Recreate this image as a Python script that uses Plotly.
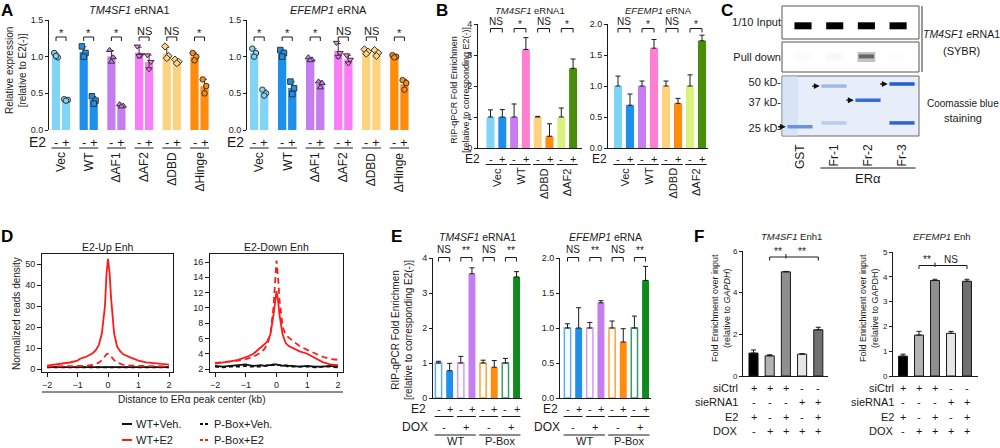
import numpy as np
import plotly.graph_objects as go

W, H = 1000, 448
FONT = "Arial, 'Liberation Sans', Helvetica, sans-serif"
INK = "#1a1a1a"

# ------------------------------------------------------------------ data
# Panel A  (replicate values, relative expression)
A_groups = ["Vec", "WT", "ΔAF1", "ΔAF2", "ΔDBD", "ΔHinge"]
A_colors = ["#80d4f6", "#1e90ec", "#c77df2", "#fb7cf9", "#fed37f", "#ff8c0d"]
A_symbols = ["circle", "square", "triangle-up", "triangle-down", "diamond", "circle"]
A_tm_minus = [[1.05, 0.99, 1.01], [1.14, 1.05, 1.00], [1.09, 0.99, 0.93],
              [1.14, 1.02, 1.01], [1.14, 1.01, 0.98], [1.05, 1.00, 0.95]]
A_tm_plus = [[0.42, 0.41, 0.40], [0.46, 0.40, 0.36], [0.35, 0.33, 0.32],
             [1.02, 0.93, 0.83], [0.96, 0.93, 0.91], [0.69, 0.60, 0.50]]
A_tm_sig = ["*", "*", "*", "NS", "NS", "*"]
A_ef_minus = [[1.11, 1.05, 1.00], [1.09, 1.05, 1.00], [0.99, 0.96, 0.95],
              [1.19, 1.05, 1.00], [1.10, 1.07, 1.04], [1.02, 1.00, 0.99]]
A_ef_plus = [[0.55, 0.50, 0.47], [0.66, 0.57, 0.49], [0.66, 0.64, 0.58],
             [1.02, 0.96, 0.91], [1.09, 1.05, 1.01], [0.68, 0.64, 0.55]]
A_ef_sig = ["*", "*", "*", "NS", "NS", "*"]

# Panel B  (RIP-qPCR)
B_groups = ["Vec", "WT", "ΔDBD", "ΔAF2"]
B_minus_colors = ["#80d4f6", "#c77df2", "#fed37f", "#d8f27c"]
B_plus_colors = ["#1e90ec", "#ff80d2", "#ff8c0d", "#4a8c0c"]
B_tm_minus = [1.0, 1.0, 1.0, 1.0]
B_tm_minus_err = [0.23, 0.42, 0.02, 0.29]
B_tm_plus = [1.0, 3.18, 0.38, 2.57]
B_tm_plus_err = [0.24, 0.38, 0.40, 0.30]
B_tm_sig = ["NS", "*", "NS", "*"]
B_ef_minus = [1.0, 1.0, 1.0, 1.0]
B_ef_minus_err = [0.16, 0.08, 0.08, 0.18]
B_ef_plus = [0.69, 1.61, 0.72, 1.73]
B_ef_plus_err = [0.18, 0.14, 0.08, 0.09]
B_ef_sig = ["NS", "*", "NS", "*"]

# Panel C  (gel)
C_lanes = ["GST", "Fr-1", "Fr-2", "Fr-3"]
C_input = [1.0, 1.0, 1.0, 1.0]
C_pulldown = [0.02, 0.03, 0.6, 0.01]
C_marker_kd = [25, 37, 50]
C_band_lane = [0, 1, 1, 2, 3, 3]
C_band_kd = [25.5, 47, 27, 38, 48.5, 27]
C_band_int = [0.6, 0.35, 0.22, 0.85, 0.95, 0.9]
C_band_arrow = [True, True, False, True, True, False]

# Panel D  (metaplots)
D_x = [-2, -1.75, -1.5, -1.25, -1, -0.9, -0.75, -0.5, -0.4, -0.3, -0.2, -0.1, -0.05,
       0, 0.05, 0.1, 0.2, 0.3, 0.4, 0.5, 0.75, 1, 1.25, 1.5, 1.75, 2]
D_up_wt_veh = [0.9, 0.9, 0.9, 0.9, 1.0, 1.0, 1.0, 1.0, 1.0, 1.1, 1.1, 1.2, 1.2,
               1.2, 1.2, 1.2, 1.1, 1.1, 1.1, 1.0, 1.0, 1.0, 1.0, 0.9, 0.9, 0.9]
D_up_wt_e2 = [1.6, 2.0, 2.6, 3.1, 4.0, 5.0, 5.6, 7.5, 9.0, 11.5, 17, 30, 45,
              52.5, 46, 34, 17, 10.6, 8.5, 7.0, 5.4, 4.0, 3.2, 2.7, 2.4, 2.1]
D_up_pb_veh = [0.8, 0.8, 0.8, 0.8, 0.8, 0.8, 0.8, 0.9, 0.9, 0.9, 0.9, 0.9, 0.9,
               0.9, 0.9, 0.9, 0.9, 0.9, 0.9, 0.9, 0.8, 0.8, 0.8, 0.8, 0.8, 0.8]
D_up_pb_e2 = [1.2, 1.2, 1.3, 1.3, 1.4, 1.4, 1.5, 2.0, 2.4, 3.0, 4.2, 6.0, 7.0,
              7.3, 7.0, 6.0, 4.2, 3.0, 2.4, 2.0, 1.6, 1.5, 1.4, 1.3, 1.3, 1.2]
D_dn_wt_veh = [2.4, 2.3, 2.4, 2.5, 2.6, 2.5, 2.4, 2.5, 2.4, 2.5, 2.5, 2.6, 2.6,
               2.6, 2.5, 2.5, 2.4, 2.5, 2.4, 2.4, 2.3, 2.4, 2.3, 2.3, 2.4, 2.3]
D_dn_wt_e2 = [2.7, 2.8, 3.0, 3.2, 3.5, 3.7, 4.0, 4.8, 5.2, 5.6, 6.5, 9.0, 11.0,
              12.2, 11.0, 9.0, 6.5, 5.4, 5.0, 4.8, 4.3, 4.0, 3.4, 2.9, 2.6, 2.5]
D_dn_pb_veh = [2.3, 2.2, 2.3, 2.3, 2.4, 2.3, 2.3, 2.3, 2.4, 2.4, 2.5, 2.5, 2.5,
               2.5, 2.5, 2.5, 2.4, 2.4, 2.3, 2.3, 2.3, 2.3, 2.2, 2.3, 2.3, 2.2]
D_dn_pb_e2 = [2.8, 2.9, 3.0, 3.1, 3.3, 3.4, 3.6, 4.2, 4.6, 5.2, 6.5, 10.0, 14.0,
              16.2, 14.0, 11.0, 7.5, 6.5, 6.1, 5.8, 5.0, 4.5, 4.0, 3.6, 3.3, 3.2]
D_series = ["WT+Veh.", "P-Box+Veh.", "WT+E2", "P-Box+E2"]

# Panel E
E_dox = ["-", "+", "-", "+"]
E_lines = ["WT", "P-Box"]
E_colors = ["#1e90ec", "#c77df2", "#ff8c0d", "#0f8a1e"]
E_open_colors = ["#5aaef0", "#d49af4", "#ffa23a", "#3a9a6a"]
E_tm_minus = [1.0, 1.0, 1.0, 1.0]
E_tm_minus_err = [0.05, 0.19, 0.08, 0.13]
E_tm_plus = [0.78, 3.55, 0.88, 3.46]
E_tm_plus_err = [0.21, 0.17, 0.19, 0.15]
E_tm_sig = ["NS", "**", "NS", "**"]
E_ef_minus = [1.0, 1.0, 1.0, 1.0]
E_ef_minus_err = [0.06, 0.08, 0.10, 0.17]
E_ef_plus = [1.0, 1.36, 0.8, 1.68]
E_ef_plus_err = [0.29, 0.03, 0.19, 0.20]
E_ef_sig = ["NS", "**", "NS", "**"]

# Panel F
F_rows = ["siCtrl", "sieRNA1", "E2", "DOX"]
F_signs = [["+", "+", "+", "-", "-"],
           ["-", "-", "-", "+", "+"],
           ["+", "-", "+", "-", "+"],
           ["-", "+", "+", "+", "+"]]
F_colors = ["#000000", "#b3b3b3", "#8f8f8f", "#e6e6e6", "#707070"]
F_tm = [1.1, 0.97, 5.0, 1.05, 2.22]
F_tm_err = [0.15, 0.05, 0.02, 0.02, 0.12]
F_tm_sig = ["**", "**"]
F_ef = [0.8, 1.65, 3.85, 1.72, 3.82]
F_ef_err = [0.08, 0.15, 0.05, 0.08, 0.08]
F_ef_sig = ["**", "NS"]

# ------------------------------------------------------------------ helpers
fig = go.Figure()
AX = {}
shapes = []
anns = []
count = [0]


def P(x):
    return x / W


def Q(y):
    return 1 - y / H


def make_axes(x0, x1, ytop, ybot, xr, yr, xkw=None, ykw=None):
    count[0] += 1
    s = "" if count[0] == 1 else str(count[0])
    xa = dict(domain=[P(x0), P(x1)], range=xr, anchor="y" + s, showgrid=False, zeroline=False,
              showline=False, showticklabels=False, ticks="", fixedrange=True, automargin=False,
              linecolor=INK, linewidth=1)
    ya = dict(domain=[Q(ybot), Q(ytop)], range=yr, anchor="x" + s, showgrid=False, zeroline=False,
              showline=True, linecolor=INK, linewidth=1, ticks="outside", ticklen=3, tickwidth=1,
              tickcolor=INK, tickfont=dict(size=9, color=INK, family=FONT), fixedrange=True,
              automargin=False)
    if xkw:
        xa.update(xkw)
    if ykw:
        ya.update(ykw)
    AX["xaxis" + s] = xa
    AX["yaxis" + s] = ya
    return "x" + s, "y" + s


def txt(t, x, y, xref="paper", size=10, xa="center", ya="middle", angle=0, color=INK, bold=False):
    xv = P(x) if xref == "paper" else x
    if bold:
        t = "<b>" + t + "</b>"
    anns.append(dict(text=f"<span style='color:{color}'>{t}</span>", x=xv, y=Q(y), xref=xref,
                     yref="paper", showarrow=False, xanchor=xa, yanchor=ya, textangle=angle,
                     borderpad=0, font=dict(size=size, family=FONT, color=color)))


def seg(x0, y0, x1, y1, xref="paper", color=INK, width=1, dash="solid"):
    if xref == "paper":
        x0, x1 = P(x0), P(x1)
    shapes.append(dict(type="line", xref=xref, yref="paper", x0=x0, x1=x1, y0=Q(y0), y1=Q(y1),
                       line=dict(color=color, width=width, dash=dash)))


def bracket(xref, xa_, xb_, ytop, ybot, width=1):
    path = f"M{xa_},{Q(ybot)} L{xa_},{Q(ytop)} L{xb_},{Q(ytop)} L{xb_},{Q(ybot)}"
    shapes.append(dict(type="path", path=path, xref=xref, yref="paper",
                       line=dict(color=INK, width=width)))


def up_err(errs, width=2.5):
    return dict(type="data", symmetric=False, array=errs, arrayminus=[0] * len(errs),
                color=INK, thickness=1, width=width)


# ------------------------------------------------------------------ panel A
def panel_A(x0, x1, title, minus, plus, sig, e2_right):
    xr, yr = make_axes(x0, x1, 20, 130, [-0.7, 15.4], [0, 1.5],
                       ykw=dict(tickvals=[0, 0.5, 1.0, 1.5], ticktext=["0.0", "0.5", "1.0", "1.5"]))
    pitch = 2.77
    bx, by, bc, be = [], [], [], []
    dx, dy, dc, ds = [], [], [], []
    jit = [-0.18, 0.18, 0.0]
    for g in range(len(A_groups)):
        for k, reps in enumerate((minus[g], plus[g])):
            xx = g * pitch + k
            bx.append(xx)
            by.append(float(np.mean(reps)))
            bc.append(A_colors[g])
            be.append(float(np.std(reps, ddof=1)))
            for j, v in enumerate(reps):
                dx.append(xx + jit[j])
                dy.append(v)
                dc.append(A_colors[g])
                ds.append(A_symbols[g])
    fig.add_trace(go.Bar(x=bx, y=by, width=0.82, marker=dict(color=bc, line=dict(width=0)),
                         error_y=dict(type="data", array=be, color="#333", thickness=1, width=2.5),
                         xaxis=xr, yaxis=yr, showlegend=False))
    fig.add_trace(go.Scatter(x=dx, y=dy, mode="markers", cliponaxis=False,
                             marker=dict(size=5.5, color=dc, symbol=ds, line=dict(color="#333", width=1)),
                             xaxis=xr, yaxis=yr, showlegend=False))
    txt(title, (x0 + x1) / 2, 10, size=11)
    for g in range(len(A_groups)):
        xm = g * pitch
        xp = xm + 1
        bracket(xr, xm, xp, 37, 41)
        txt(sig[g], (xm + xp) / 2, 31 if sig[g] == "NS" else 33, xref=xr, size=11)
        txt("-", xm, 142, xref=xr, size=13)
        txt("+", xp, 142, xref=xr, size=13)
        seg(xm - 0.45, 148, xp + 0.45, 148, xref=xr)
        txt(A_groups[g], (xm + xp) / 2, 151, xref=xr, size=12, ya="top", angle=-90)
    txt("E2", e2_right, 142, size=14, xa="right")


panel_A(49, 210, "<i>TM4SF1</i> eRNA1", A_tm_minus, A_tm_plus, A_tm_sig, 47)
panel_A(247, 410, "<i>EFEMP1</i> eRNA", A_ef_minus, A_ef_plus, A_ef_sig, 245)
txt("Relative expression<br>[relative to E2(-)]", 16, 71, size=10, angle=-90)


# ------------------------------------------------------------------ panel B
def panel_B(x0, x1, first, pitch, yr_, tv, tt, title, mv, me, pv, pe, sig, e2_right):
    xr, yr = make_axes(x0, x1, 24, 148, [-(first - x0) / pitch, (x1 - first) / pitch], yr_,
                       xkw=dict(showline=True), ykw=dict(tickvals=tv, ticktext=tt))
    xm = [2 * g for g in range(len(B_groups))]
    xp = [2 * g + 1 for g in range(len(B_groups))]
    fig.add_trace(go.Bar(x=xm, y=mv, width=0.68, marker=dict(color=B_minus_colors, line=dict(width=0)),
                         error_y=up_err(me), xaxis=xr, yaxis=yr, showlegend=False))
    fig.add_trace(go.Bar(x=xp, y=pv, width=0.68, marker=dict(color=B_plus_colors, line=dict(width=0)),
                         error_y=up_err(pe), xaxis=xr, yaxis=yr, showlegend=False))
    txt(title, (x0 + x1) / 2, 10, size=9.5)
    for g in range(len(B_groups)):
        bracket(xr, xm[g], xp[g], 28.5, 32.5)
        txt(sig[g], xm[g] + 0.5, 21 if sig[g] == "NS" else 24, xref=xr, size=10)
        txt("-", xm[g], 159, xref=xr, size=11)
        txt("+", xp[g], 159, xref=xr, size=11)
        seg(xm[g] - 0.4, 164.5, xp[g] + 0.4, 164.5, xref=xr)
        txt(B_groups[g], xm[g] + 0.5, 167, xref=xr, size=11, ya="top", angle=-90)
    txt("E2", e2_right, 159, size=12, xa="right")


panel_B(478, 582, 490.5, 11.8, [0, 4], [0, 1, 2, 3, 4], ["0", "1", "2", "3", "4"],
        "<i>TM4SF1</i> eRNA1", B_tm_minus, B_tm_minus_err, B_tm_plus, B_tm_plus_err, B_tm_sig, 481)
panel_B(608, 708, 618, 12.0, [0, 2], [0, 0.5, 1, 1.5, 2], ["0.0", "0.5", "1.0", "1.5", "2.0"],
        "<i>EFEMP1</i> eRNA", B_ef_minus, B_ef_minus_err, B_ef_plus, B_ef_plus_err, B_ef_sig, 608)
txt("RIP-qPCR Fold Enrichmen<br>[relative to corresponding E2(-)]", 460, 90, size=9, angle=-90)


# ------------------------------------------------------------------ panel C
def gray(v):
    c = int(round(255 * (1 - v)))
    return f"rgb({c},{c},{c})"


def blue(v):
    bg = (229, 237, 248)
    fg = (25, 85, 205)
    c = [int(round(bg[i] + (fg[i] - bg[i]) * v)) for i in range(3)]
    return f"rgb({c[0]},{c[1]},{c[2]})"


lane_idx = list(range(len(C_lanes)))
cx1, cy1 = make_axes(782, 919, 6, 39, [-0.663, 3.66], [0, 1],
                     ykw=dict(showline=False, ticks="", tickvals=[0.5], ticktext=["1/10 Input"],
                              tickfont=dict(size=11, family=FONT, color=INK)))
cx2, cy2 = make_axes(782, 919, 42, 72, [-0.663, 3.66], [0, 1],
                     ykw=dict(showline=False, ticks="", tickvals=[0.5], ticktext=["Pull down"],
                              tickfont=dict(size=11, family=FONT, color=INK)))
cx3, cy3 = make_axes(782, 919, 76, 136, [-0.53, 3.5], [1.346, 1.738],
                     xkw=dict(showticklabels=True, tickvals=lane_idx, ticktext=C_lanes, tickangle=-90,
                              tickfont=dict(size=12, family=FONT, color=INK), ticklabelstandoff=5),
                     ykw=dict(type="log", showline=False, ticks="", tickvals=C_marker_kd,
                              ticktext=[f"{k} kD-" for k in C_marker_kd],
                              tickfont=dict(size=11, family=FONT, color=INK)))
for (a, b, c, d) in [(782, 6, 919, 39), (782, 42, 919, 72)]:
    shapes.append(dict(type="rect", xref="paper", yref="paper", x0=P(a), x1=P(c), y0=Q(d), y1=Q(b),
                       line=dict(color="#555", width=1), fillcolor="white", layer="below"))
shapes.append(dict(type="rect", xref="paper", yref="paper", x0=P(782), x1=P(919), y0=Q(136), y1=Q(76),
                   line=dict(color="#666", width=1), fillcolor="#e7eef9", layer="below"))
shapes.append(dict(type="rect", xref="paper", yref="paper", x0=P(782.5), x1=P(798), y0=Q(135.5), y1=Q(76.5),
                   line=dict(width=0), fillcolor="#d8e3f6", layer="below"))
for l in lane_idx:
    fig.add_trace(go.Scatter(x=[l - 0.27, l + 0.27], y=[0.4, 0.4], mode="lines",
                             line=dict(color=gray(C_input[l]), width=7), xaxis=cx1, yaxis=cy1,
                             showlegend=False, hoverinfo="skip"))
    fig.add_trace(go.Scatter(x=[l - 0.28, l + 0.28], y=[0.5, 0.5], mode="lines",
                             line=dict(color=gray(C_pulldown[l] * 0.4), width=10), xaxis=cx2, yaxis=cy2,
                             showlegend=False, hoverinfo="skip"))
    fig.add_trace(go.Scatter(x=[l - 0.24, l + 0.24], y=[0.52, 0.52], mode="lines",
                             line=dict(color=gray(C_pulldown[l]), width=4), xaxis=cx2, yaxis=cy2,
                             showlegend=False, hoverinfo="skip"))
for i in range(len(C_band_lane)):
    l = C_band_lane[i]
    fig.add_trace(go.Scatter(x=[l - 0.37, l + 0.37], y=[C_band_kd[i], C_band_kd[i]], mode="lines",
                             line=dict(color=blue(C_band_int[i]), width=3.5), xaxis=cx3, yaxis=cy3,
                             showlegend=False, hoverinfo="skip"))
    if C_band_arrow[i]:
        anns.append(dict(x=l - 0.42, y=float(np.log10(C_band_kd[i])), xref=cx3, yref=cy3, text="",
                         showarrow=True, arrowhead=2, arrowsize=0.9, arrowwidth=1.3, arrowcolor="#111",
                         ax=-9, ay=0))
seg(922, 6, 922, 72, color="#333")
txt("<i>TM4SF1</i> eRNA1", 961, 34, size=10.5)
txt("(SYBR)", 961, 51, size=11)
txt("Coomassie blue", 963, 103, size=10)
txt("staining", 963, 118, size=11)
seg(1 - 0.4, 168, 3 + 0.4, 168, xref=cx3)
txt("ERα", 2, 178, xref=cx3, size=13)


# ------------------------------------------------------------------ panel D
def panel_D(x0, x1, xr_, yr_, tv, title, ys):
    xr, yr = make_axes(x0, x1, 254, 372, xr_, yr_,
                       xkw=dict(showline=True, mirror=True, showticklabels=True, ticks="outside",
                                ticklen=4, tickcolor=INK, tickvals=[-2, -1, 0, 1, 2],
                                tickfont=dict(size=9, family=FONT, color=INK)),
                       ykw=dict(mirror=True, ticklen=4, tickvals=tv))
    styles = [("#111", "solid"), ("#111", "4px,3px"), ("#ff1a1a", "solid"), ("#ff1a1a", "6px,4px")]
    for (c, d), y in zip(styles, ys):
        fig.add_trace(go.Scatter(x=D_x, y=y, mode="lines", line=dict(color=c, width=1.8, dash=d),
                                 xaxis=xr, yaxis=yr, showlegend=False))
    txt(title, (x0 + x1) / 2, 247, size=10.5)


panel_D(42, 173, [-2.164, 2.131], [-1.43, 54.76], [0, 10, 20, 30, 40, 50], "E2-Up Enh",
        [D_up_wt_veh, D_up_pb_veh, D_up_wt_e2, D_up_pb_e2])
panel_D(210, 343, [-2.163, 2.163], [1.607, 17.05], [2, 4, 6, 8, 10, 12, 14, 16], "E2-Down Enh",
        [D_dn_wt_veh, D_dn_pb_veh, D_dn_wt_e2, D_dn_pb_e2])
txt("Normalized reads density", 16, 314, size=10, angle=-90)
seg(42, 392, 343, 392)
txt("Distance to ERα peak center (kb)", 192, 399, size=10)
leg_pos = [(122, 424), (200, 424), (122, 440), (200, 440)]
leg_sty = [("#111", "solid"), ("#111", "3px,2px"), ("#ff1a1a", "solid"), ("#ff1a1a", "3px,2px")]
for name, (lx, ly), (c, d) in zip(D_series, leg_pos, leg_sty):
    seg(lx, ly, lx + 10, ly, color=c, width=2, dash=d)
    txt(name, lx + 13, ly, size=11, xa="left")


# ------------------------------------------------------------------ panel E
def panel_E(x0, x1, first, pitch, yr_, tv, tt, title, mv, me, pv, pe, sig, e2r):
    xr, yr = make_axes(x0, x1, 258, 398, [-(first - x0) / pitch, (x1 - first) / pitch], yr_,
                       xkw=dict(showline=True), ykw=dict(tickvals=tv, ticktext=tt))
    xm = [2 * p for p in range(4)]
    xp = [2 * p + 1 for p in range(4)]
    fig.add_trace(go.Bar(x=xm, y=mv, width=0.56,
                         marker=dict(color="white", line=dict(color=E_open_colors, width=1.5)),
                         error_y=up_err(me), xaxis=xr, yaxis=yr, showlegend=False))
    fig.add_trace(go.Bar(x=xp, y=pv, width=0.62, marker=dict(color=E_colors, line=dict(width=0)),
                         error_y=up_err(pe), xaxis=xr, yaxis=yr, showlegend=False))
    txt(title, (x0 + x1) / 2, 237, size=10.5)
    for p in range(4):
        bracket(xr, xm[p], xp[p], 257.5, 261.5)
        txt(sig[p], xm[p] + 0.5, 249 if sig[p] == "NS" else 251, xref=xr, size=10)
        txt("-", xm[p], 409, xref=xr, size=11)
        txt("+", xp[p], 409, xref=xr, size=11)
        seg(xm[p] - 0.35, 416.5, xp[p] + 0.35, 416.5, xref=xr)
        txt(E_dox[p], xm[p] + 0.5, 427, xref=xr, size=11)
    for k, name in enumerate(E_lines):
        seg(4 * k - 0.35, 435, 4 * k + 3.35, 435, xref=xr)
        txt(name, 4 * k + 1.5, 441, xref=xr, size=11)
    txt("E2", e2r, 409, size=12, xa="right")
    txt("DOX", e2r + 2, 427, size=12, xa="right")


panel_E(433, 522, 438.5, 11.15, [0, 4], [0, 1, 2, 3, 4], ["0", "1", "2", "3", "4"],
        "<i>TM4SF1</i> eRNA1", E_tm_minus, E_tm_minus_err, E_tm_plus, E_tm_plus_err, E_tm_sig, 427)
panel_E(560, 651, 567.5, 11.15, [0, 2], [0, 0.5, 1, 1.5, 2], ["0.0", "0.5", "1.0", "1.5", "2.0"],
        "<i>EFEMP1</i> eRNA", E_ef_minus, E_ef_minus_err, E_ef_plus, E_ef_plus_err, E_ef_sig, 559)
txt("RIP-qPCR Fold Enrichmen<br>[relative to corresponding E2(-)]", 402, 330, size=10, angle=-90)


# ------------------------------------------------------------------ panel F
def panel_F(x0, x1, first, pitch, ytop, yr_, tv, title, vals, errs, sig, br_y, sig_y, lab_r, ytitle, ytx):
    xr, yr = make_axes(x0, x1, ytop, 376, [-(first - x0) / pitch, (x1 - first) / pitch], yr_,
                       xkw=dict(showline=True),
                       ykw=dict(tickvals=tv, tickfont=dict(size=8, family=FONT, color=INK)))
    xs = list(range(len(vals)))
    fig.add_trace(go.Bar(x=xs, y=vals, width=0.56, marker=dict(color=F_colors, line=dict(color=INK, width=1)),
                         error_y=up_err(errs, width=2.5), xaxis=xr, yaxis=yr, showlegend=False))
    txt(title, (x0 + x1) / 2 + 6, 237, size=9.5)
    bracket(xr, 1, 4, br_y, br_y + 3.5)
    seg(2, br_y - 3, 2, br_y + 1.5, xref=xr)
    txt(sig[0], 1.5, sig_y, xref=xr, size=10)
    txt(sig[1], 3, sig_y, xref=xr, size=10)
    for r, name in enumerate(F_rows):
        yy = 388 + r * 14.3
        txt(name, lab_r, yy, size=11, xa="right")
        for b in xs:
            txt(F_signs[r][b], b, yy, xref=xr, size=11)
    txt(ytitle, ytx, 308, size=9, angle=-90)


panel_F(743, 828, 753.5, 16.2, 251, [0, 6], [0, 2, 4, 6], "<i>TM4SF1</i> Enh1", F_tm, F_tm_err,
        F_tm_sig, 257, 251.5, 739, "Fold Enrichment over input<br>(relative to <i>GAPDH</i>)", 721)
panel_F(893, 978, 903, 16.0, 252, [0, 5], [0, 1, 2, 3, 4, 5], "<i>EFEMP1</i> Enh", F_ef, F_ef_err,
        F_ef_sig, 265.5, 259, 895, "Fold Enrichment over input<br>(relative to GAPDH)", 869)

# ------------------------------------------------------------------ panel letters
for lab, x, y in [("A", 7, 10), ("B", 442, 10.5), ("C", 727, 10), ("D", 7, 237), ("E", 396, 236), ("F", 699, 237)]:
    txt(lab, x, y, size=17, bold=True, color="#000")

fig.update_layout(width=W, height=H, margin=dict(l=0, r=0, t=0, b=0), autosize=False,
                  template="none", barmode="overlay", showlegend=False, hovermode=False,
                  paper_bgcolor="white", plot_bgcolor="rgba(0,0,0,0)",
                  font=dict(family=FONT, color=INK), shapes=shapes, annotations=anns, **AX)
fig.write_html("out.html", config={"displayModeBar": False, "staticPlot": True},
               post_script="document.body.style.margin='0px';document.body.style.padding='0px';")
